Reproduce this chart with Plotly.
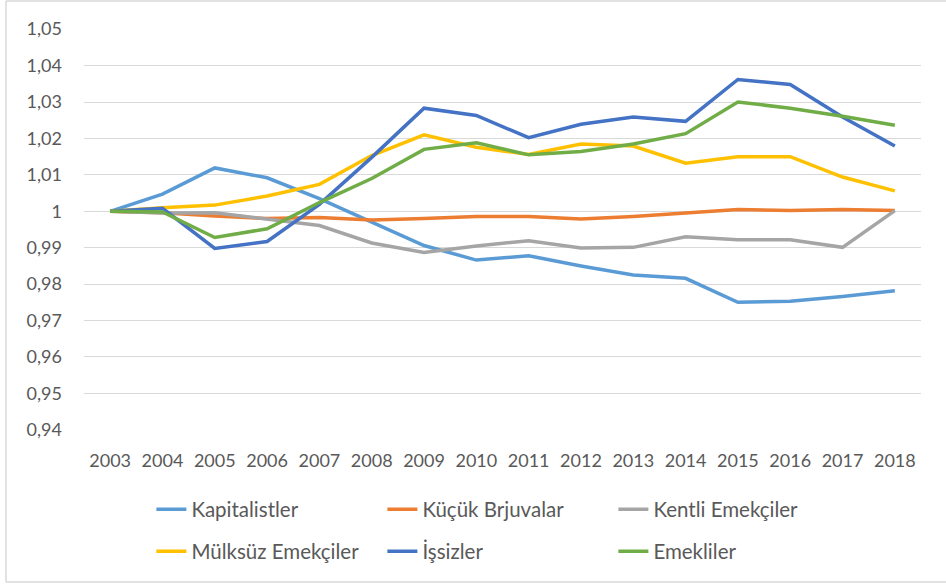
import plotly.graph_objects as go

years = ["2003", "2004", "2005", "2006", "2007", "2008", "2009", "2010",
         "2011", "2012", "2013", "2014", "2015", "2016", "2017", "2018"]

kapitalistler = [1.000, 1.0047, 1.0119, 1.0092, 1.0035, 0.9970, 0.9906, 0.9866,
                 0.9878, 0.9850, 0.9825, 0.9816, 0.9750, 0.9753, 0.9766, 0.9782]
kucuk_burjuvalar = [1.000, 0.9996, 0.9987, 0.9980, 0.9983, 0.9976, 0.9980, 0.9986,
                    0.9986, 0.9979, 0.9986, 0.9995, 1.0005, 1.0002, 1.0005, 1.0002]
kentli_emekciler = [1.000, 0.9995, 0.9996, 0.9978, 0.9961, 0.9913, 0.9887, 0.9905,
                    0.9919, 0.9899, 0.9901, 0.9930, 0.9922, 0.9922, 0.9901, 1.0002]
mulksuz_emekciler = [1.000, 1.0010, 1.0017, 1.0042, 1.0074, 1.0153, 1.0210, 1.0176,
                     1.0156, 1.0185, 1.0179, 1.0132, 1.0150, 1.0150, 1.0094, 1.0056]
issizler = [1.000, 1.0008, 0.9898, 0.9917, 1.0019, 1.0148, 1.0283, 1.0263,
            1.0202, 1.0239, 1.0259, 1.0247, 1.0362, 1.0348, 1.0259, 1.0179]
emekliler = [1.000, 0.9998, 0.9928, 0.9952, 1.0024, 1.0090, 1.0170, 1.0188,
             1.0155, 1.0164, 1.0185, 1.0213, 1.0300, 1.0283, 1.0261, 1.0236]

series_names = ["Kapitalistler", "Küçük Brjuvalar", "Kentli Emekçiler",
                "Mülksüz Emekçiler", "İşsizler", "Emekliler"]
series_values = [kapitalistler, kucuk_burjuvalar, kentli_emekciler,
                 mulksuz_emekciler, issizler, emekliler]
colors = ["#5B9BD5", "#ED7D31", "#A5A5A5", "#FFC000", "#4472C4", "#70AD47"]

y_tickvals = [0.94, 0.95, 0.96, 0.97, 0.98, 0.99, 1.00, 1.01, 1.02, 1.03, 1.04, 1.05]
y_ticktext = ["0,94", "0,95", "0,96", "0,97", "0,98", "0,99", "1",
              "1,01", "1,02", "1,03", "1,04", "1,05"]

FONT = "Lato, 'Open Sans', sans-serif"
TXT = "#595959"

fig = go.Figure()
for i, (name, vals, col) in enumerate(zip(series_names, series_values, colors)):
    fig.add_trace(go.Scatter(
        x=years, y=vals, name=name, mode="lines",
        line=dict(color=col, width=3.5),
        legend="legend" if i < 3 else "legend2",
    ))

legend_common = dict(
    orientation="h", xanchor="left", yanchor="middle",
    entrywidth=186, entrywidthmode="pixels",
    font=dict(family=FONT, size=20.5, color=TXT),
    bgcolor="rgba(0,0,0,0)", itemclick=False,
)

# chart frame (left, top, bottom edges; right edge lies outside the picture)
bx0, bx1 = (6 - 84) / 837, (946 - 84) / 837
by0, by1 = (430 - 582) / 401, (430 - 1) / 401
frame = dict(color="#D9D9D9", width=1.5)
shapes = [
    dict(type="line", xref="paper", yref="paper", x0=bx0, x1=bx0, y0=by0, y1=by1, line=frame, layer="below"),
    dict(type="line", xref="paper", yref="paper", x0=bx0, x1=bx1, y0=by1, y1=by1, line=frame, layer="below"),
    dict(type="line", xref="paper", yref="paper", x0=bx0, x1=bx1, y0=by0, y1=by0, line=frame, layer="below"),
]

fig.update_layout(
    width=946, height=584,
    margin=dict(l=84, r=25, t=29, b=154, autoexpand=False),
    paper_bgcolor="white", plot_bgcolor="white",
    font=dict(family=FONT, color=TXT),
    showlegend=True,
    legend=dict(x=0.0805, y=-0.198, **legend_common),
    legend2=dict(x=0.0805, y=-0.303, **legend_common),
    xaxis=dict(
        type="category", range=[-0.5, 15.5],
        showgrid=False, zeroline=False, showline=False, ticks="",
        tickfont=dict(family=FONT, size=18, color=TXT),
        ticklabelstandoff=18,
    ),
    yaxis=dict(
        range=[0.93995, 1.05005],
        tickvals=y_tickvals, ticktext=y_ticktext,
        showgrid=True, gridcolor="#D9D9D9", gridwidth=1,
        zeroline=False, showline=False, ticks="",
        tickfont=dict(family=FONT, size=18, color=TXT),
        ticklabelstandoff=21,
    ),
    shapes=shapes,
)

fig.write_html(
    "out.html",
    config={"displayModeBar": False},
    post_script="document.body.style.margin='0';document.body.style.overflow='hidden';",
)
